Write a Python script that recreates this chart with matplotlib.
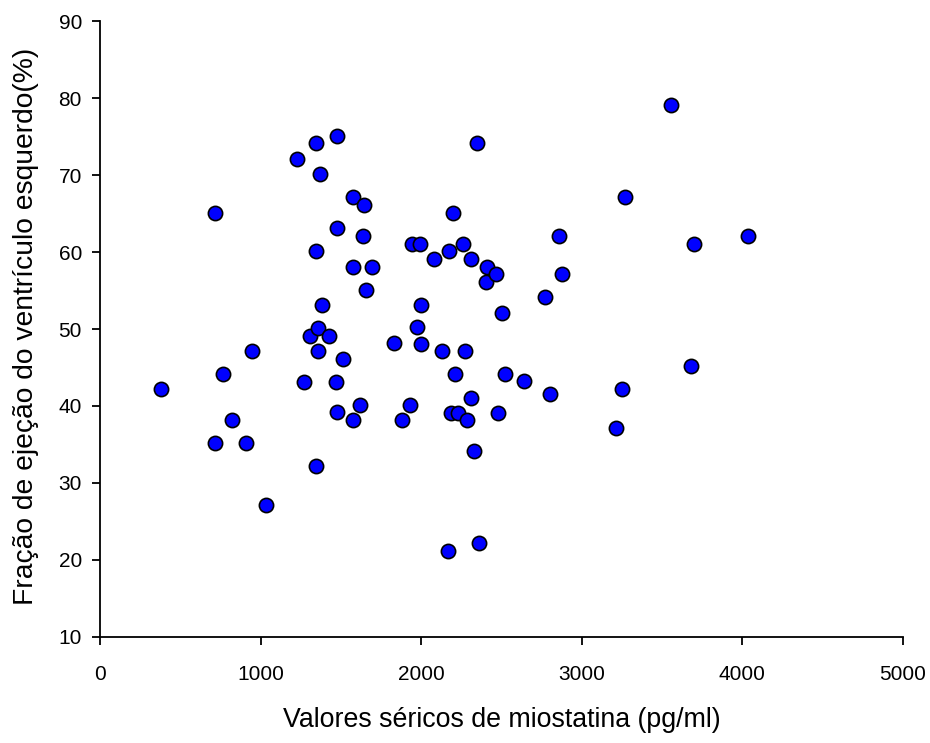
import numpy as np
import matplotlib.pyplot as plt

plt.rcParams['font.family'] = ['Liberation Sans', 'DejaVu Sans']

# miostatina (pg/ml) vs fracao de ejecao (%)
miostatina = [380, 716, 716, 766, 822, 909, 946, 1034,
              1227, 1270, 1308, 1343, 1347, 1345, 1357, 1357, 1372, 1380,
              1426, 1474, 1474, 1469, 1476, 1513, 1578, 1578, 1575, 1619,
              1636, 1642, 1654, 1695,
              1831, 1880, 1940, 1930, 1976, 1993, 2001, 2001, 2078, 2130,
              2173, 2165, 2186, 2200, 2210, 2227, 2262, 2273, 2283, 2308,
              2308, 2331, 2345, 2360, 2402, 2412, 2469, 2476, 2503, 2522,
              2642, 2769, 2800, 2858, 2880, 3211, 3252, 3271, 3557, 3682,
              3701, 4037]
fracao = [42.2, 65.1, 35.2, 44.2, 38.2, 35.2, 47.1, 27.1,
          72.1, 43.1, 49.1, 74.1, 60.1, 32.2, 50.1, 47.1, 70.1, 53.1,
          49.1, 75.1, 63.1, 43.1, 39.2, 46.1, 67.1, 58.1, 38.2, 40.1,
          62.1, 66.1, 55.1, 58.1,
          48.2, 38.2, 61.1, 40.1, 50.2, 61.1, 53.1, 48.1, 59.1, 47.1,
          60.1, 21.2, 39.1, 65.1, 44.2, 39.1, 61.1, 47.1, 38.2, 59.1,
          41.1, 34.2, 74.1, 22.2, 56.1, 58.1, 57.1, 39.1, 52.1, 44.2,
          43.2, 54.1, 41.6, 62.1, 57.1, 37.1, 42.2, 67.1, 79.05, 45.2,
          61.1, 62.1]

fig = plt.figure(figsize=(9.3, 7.43), dpi=100)
ax = fig.add_axes([0.1075, 0.1427, 0.8634, 0.829])

ax.scatter(miostatina, fracao, s=105, c='#0000ff', edgecolors='black',
           linewidths=1.2, zorder=3, clip_on=False)

ax.set_xlim(0, 5000)
ax.set_ylim(10, 90)
ax.set_xticks(np.arange(0, 5001, 1000))
ax.set_yticks(np.arange(10, 91, 10))

ax.spines['top'].set_visible(False)
ax.spines['right'].set_visible(False)
ax.spines['left'].set_linewidth(1.3)
ax.spines['bottom'].set_linewidth(1.3)
ax.tick_params(direction='out', length=6, width=1.3, labelsize=15)
ax.tick_params(axis='x', pad=14)
ax.tick_params(axis='y', pad=7)

ax.set_xlabel('Valores séricos de miostatina (pg/ml)', fontsize=19.3)
ax.set_ylabel('Fração de ejeção do ventrículo esquerdo(%)', fontsize=20.3)
ax.xaxis.set_label_coords(0.5, -0.1143)
ax.yaxis.set_label_coords(-0.076, 0.505)

plt.savefig('out.png', dpi=100)
